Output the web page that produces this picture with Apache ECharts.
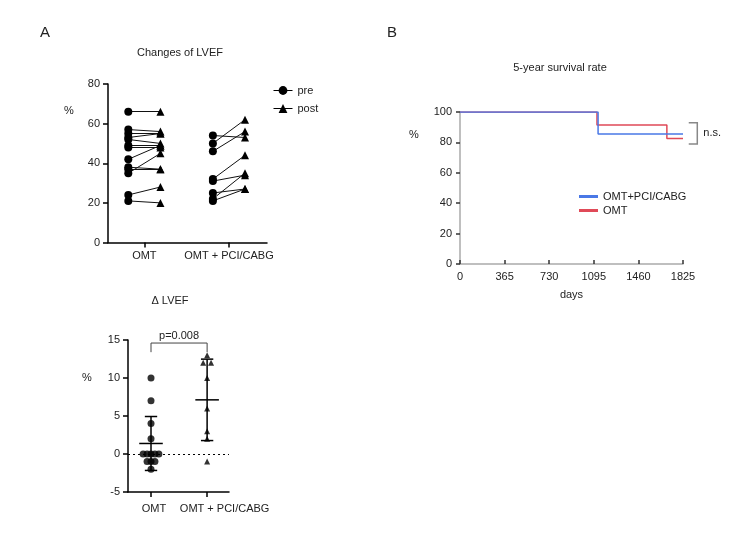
<!DOCTYPE html>
<html>
<head>
<meta charset="utf-8">
<script src="https://cdn.jsdelivr.net/npm/echarts@6/dist/echarts.min.js"></script>
<style>
  html, body { margin: 0; background: #fff; }
  #chart { width: 750px; height: 560px; }
</style>
</head>
<body>
<div id="chart"></div>
<script>
// A (top): LVEF before / after, one entry per patient, same order in pre and post
const groups = ['OMT', 'OMT + PCI/CABG']
const omtPre = [66, 57, 55, 53, 52, 49, 48, 42, 38, 37, 35, 24, 21]
const omtPost = [66, 56, 55, 55, 50, 49, 48, 49, 37, 37, 45, 28, 20]
const pciPre = [54, 50, 46, 32, 31, 22, 21, 25]
const pciPost = [53, 62, 56, 44, 34, 35, 27, 27]

// A (bottom): change of LVEF per patient
const deltaOmt = [10, 7, 4, 2, 0, 0, 0, 0, 0, -1, -1, -1, -2]
const deltaPci = [13, 12, 12, 10, 6, 3, 2, -1]
const pValue = 'p=0.008'

// B: Kaplan-Meier steps, [day, %]
const kmNames = ['OMT+PCI/CABG', 'OMT']
const kmPci = [[0, 100], [1130, 85.5], [1825, 85.5]]
const kmOmt = [[0, 100], [1121, 91.5], [1693, 82.5], [1825, 82.5]]

const FONT = "'Liberation Sans', Arial, sans-serif"
const ink = '#222'
const off = 0.19     // pre/post horizontal offset from the group tick
const swarmStep = 0.07

const chart = echarts.init(document.getElementById('chart'))

function meanSd(a) {
  const m = a.reduce((s, v) => s + v, 0) / a.length
  const sd = Math.sqrt(a.reduce((s, v) => s + (v - m) * (v - m), 0) / (a.length - 1))
  return [m, sd]
}

// spread equal values sideways, like a small beeswarm
function swarm(values, center) {
  const seen = {}
  const total = {}
  values.forEach(v => { total[v] = (total[v] || 0) + 1 })
  return values.map(v => {
    const k = seen[v] = (seen[v] || 0) + 1
    const n = total[v]
    let o
    if (n % 2) o = k === 1 ? 0 : Math.ceil((k - 1) / 2) * (k % 2 ? -1 : 1)
    else o = Math.ceil(k / 2) * (k % 2 ? 1 : -1)
    return [center + o * swarmStep, v]
  })
}

function pairLines(pre, post, g) {
  return pre.map((v, i) => ({ coords: [[g - off, v], [g + off, post[i]]] }))
}

const blackAxis = {
  axisLine: { onZero: false, lineStyle: { color: '#000', width: 1.5 } },
  axisTick: { lineStyle: { color: '#000', width: 1.5 }, length: 5 },
  axisLabel: { color: ink, fontSize: 11, fontFamily: FONT },
  splitLine: { show: false }
}

const groupLabel = {
  customValues: [0, 1], showMinLabel: true, showMaxLabel: true,
  color: ink, fontSize: 11, fontFamily: FONT
}

const txt = (text, x, y, size, align) => ({
  type: 'text', x, y,
  style: { text, fill: ink, font: (size || 11) + 'px ' + FONT, align: align || 'center', verticalAlign: 'middle' }
})

const stats = [meanSd(deltaOmt), meanSd(deltaPci)]

chart.setOption({
  animation: false,
  textStyle: { fontFamily: FONT },
  graphic: [
    txt('A', 45, 33, 15),
    txt('B', 392, 33, 15),
    txt('Changes of LVEF', 180, 53),
    txt('\u0394 LVEF', 170, 301),
    txt('5-year survival rate', 560, 68),
    txt('%', 69, 111),
    txt('%', 87, 378),
    txt('%', 414, 135)
  ],
  legend: [
    {
      data: ['pre', 'post'],
      orient: 'vertical', left: 268, top: 80, itemGap: 7, itemWidth: 19, itemHeight: 11,
      textStyle: { color: ink, fontSize: 11, fontFamily: FONT },
      lineStyle: { color: '#000', width: 1, opacity: 1 }
    },
    {
      data: kmNames,
      orient: 'vertical', left: 574, top: 186, itemGap: 3,
      icon: 'rect', itemWidth: 19, itemHeight: 3,
      textStyle: { color: ink, fontSize: 11, fontFamily: FONT }
    }
  ],
  grid: [
    { left: 108, top: 84, width: 159, height: 158.5 },
    { left: 128, top: 340, width: 101, height: 152 },
    { left: 460, top: 112, width: 223, height: 152 }
  ],
  xAxis: [
    Object.assign({}, blackAxis, {
      gridIndex: 0, type: 'value', min: -0.43, max: 1.45,
      axisTick: Object.assign({}, blackAxis.axisTick, { customValues: [0, 1] }),
      axisLabel: Object.assign({}, groupLabel, { formatter: v => groups[v] })
    }),
    Object.assign({}, blackAxis, {
      gridIndex: 1, type: 'value', min: -0.41, max: 1.39,
      axisTick: Object.assign({}, blackAxis.axisTick, { customValues: [0, 1] }),
      axisLabel: Object.assign({}, groupLabel, {
        margin: 11,
        formatter: v => (v ? '{r|' : '{l|') + groups[v] + '}',
        rich: {
          l: { color: ink, fontSize: 11, fontFamily: FONT, padding: [0, 0, 0, 6] },
          r: { color: ink, fontSize: 11, fontFamily: FONT, padding: [0, 0, 0, 35] }
        }
      })
    }),
    {
      gridIndex: 2, type: 'value', min: 0, max: 1825, interval: 365,
      name: 'days', nameLocation: 'middle', nameGap: 25,
      nameTextStyle: { color: ink, fontSize: 11, fontFamily: FONT },
      axisLine: { onZero: false, lineStyle: { color: '#aaa', width: 1.5 } },
      axisTick: { lineStyle: { color: '#333', width: 1.5 }, length: 4, inside: true },
      axisLabel: { color: ink, fontSize: 11, fontFamily: FONT, margin: 7, formatter: v => String(v) },
      splitLine: { show: false }
    }
  ],
  yAxis: [
    Object.assign({}, blackAxis, { gridIndex: 0, min: 0, max: 80, interval: 20 }),
    Object.assign({}, blackAxis, { gridIndex: 1, min: -5, max: 15, interval: 5 }),
    {
      gridIndex: 2, min: 0, max: 100, interval: 20,
      axisLine: { show: true, onZero: false, lineStyle: { color: '#aaa', width: 1.5 } },
      axisTick: { show: true, lineStyle: { color: '#333', width: 1.5 }, length: 4 },
      axisLabel: { color: ink, fontSize: 11, fontFamily: FONT },
      splitLine: { show: false }
    }
  ],
  series: [
    // A top
    {
      type: 'lines', coordinateSystem: 'cartesian2d', xAxisIndex: 0, yAxisIndex: 0,
      silent: true, lineStyle: { color: '#111', width: 1, opacity: 1 },
      data: pairLines(omtPre, omtPost, 0).concat(pairLines(pciPre, pciPost, 1))
    },
    {
      name: 'pre', type: 'line', xAxisIndex: 0, yAxisIndex: 0, silent: true,
      symbol: 'circle', symbolSize: 8, itemStyle: { color: '#000' },
      lineStyle: { opacity: 0 },
      data: omtPre.map(v => [-off, v]).concat(pciPre.map(v => [1 - off, v]))
    },
    {
      name: 'post', type: 'line', xAxisIndex: 0, yAxisIndex: 0, silent: true,
      symbol: 'triangle', symbolSize: 8, itemStyle: { color: '#000' },
      lineStyle: { opacity: 0 },
      data: omtPost.map(v => [off, v]).concat(pciPost.map(v => [1 + off, v]))
    },
    // A bottom
    {
      type: 'scatter', xAxisIndex: 1, yAxisIndex: 1, silent: true,
      symbol: 'circle', symbolSize: 7, itemStyle: { color: '#000' },
      data: swarm(deltaOmt, 0),
      markLine: {
        silent: true, symbol: 'none', label: { show: false },
        lineStyle: { color: '#000', type: [2, 3], width: 1.2 },
        data: [{ yAxis: 0 }]
      }
    },
    {
      type: 'scatter', xAxisIndex: 1, yAxisIndex: 1, silent: true,
      symbol: 'triangle', symbolSize: 6, itemStyle: { color: '#000' },
      data: swarm(deltaPci, 1)
    },
    {
      type: 'custom', xAxisIndex: 1, yAxisIndex: 1, silent: true,
      data: stats.map((s, i) => [i, s[0], s[1]]),
      renderItem(params, api) {
        const x = api.value(0), m = api.value(1), sd = api.value(2)
        const seg = (x1, y1, x2, y2) => {
          const a = api.coord([x1, y1]), b = api.coord([x2, y2])
          return { type: 'line', shape: { x1: a[0], y1: a[1], x2: b[0], y2: b[1] }, style: { stroke: '#000', lineWidth: 1.5 } }
        }
        return {
          type: 'group',
          children: [
            seg(x, m - sd, x, m + sd),
            seg(x - 0.11, m + sd, x + 0.11, m + sd),
            seg(x - 0.11, m - sd, x + 0.11, m - sd),
            seg(x - 0.21, m, x + 0.21, m)
          ]
        }
      }
    },
    {
      type: 'custom', xAxisIndex: 1, yAxisIndex: 1, silent: true,
      data: [[0, 1, 14.6, 13.4]],
      renderItem(params, api) {
        const a = api.coord([api.value(0), api.value(3)])
        const b = api.coord([api.value(0), api.value(2)])
        const c = api.coord([api.value(1), api.value(2)])
        const d = api.coord([api.value(1), api.value(3)])
        return {
          type: 'group',
          children: [
            { type: 'polyline', shape: { points: [a, b, c, d] }, style: { stroke: '#444', lineWidth: 1, fill: null } },
            { type: 'text', x: (b[0] + c[0]) / 2, y: b[1] - 2,
              style: { text: pValue, fill: ink, font: '11px ' + FONT, align: 'center', verticalAlign: 'bottom' } }
          ]
        }
      }
    },
    // B
    {
      name: 'OMT', type: 'line', step: 'end', xAxisIndex: 2, yAxisIndex: 2, silent: true,
      symbol: 'none', color: '#e04a58', lineStyle: { width: 1.5 }, data: kmOmt
    },
    {
      name: 'OMT+PCI/CABG', type: 'line', step: 'end', xAxisIndex: 2, yAxisIndex: 2, silent: true,
      symbol: 'none', color: '#4a78e6', lineStyle: { width: 1.5 }, data: kmPci
    },
    {
      type: 'custom', xAxisIndex: 2, yAxisIndex: 2, silent: true,
      data: [[1872, 1942, 93, 79]],
      renderItem(params, api) {
        const a = api.coord([api.value(0), api.value(2)])
        const b = api.coord([api.value(1), api.value(2)])
        const c = api.coord([api.value(1), api.value(3)])
        const d = api.coord([api.value(0), api.value(3)])
        return {
          type: 'group',
          children: [
            { type: 'polyline', shape: { points: [a, b, c, d] }, style: { stroke: '#888', lineWidth: 1.5, fill: null } },
            { type: 'text', x: b[0] + 6, y: (b[1] + c[1]) / 2,
              style: { text: 'n.s.', fill: ink, font: '11px ' + FONT, align: 'left', verticalAlign: 'middle' } }
          ]
        }
      }
    }
  ]
})
</script>
</body>
</html>
